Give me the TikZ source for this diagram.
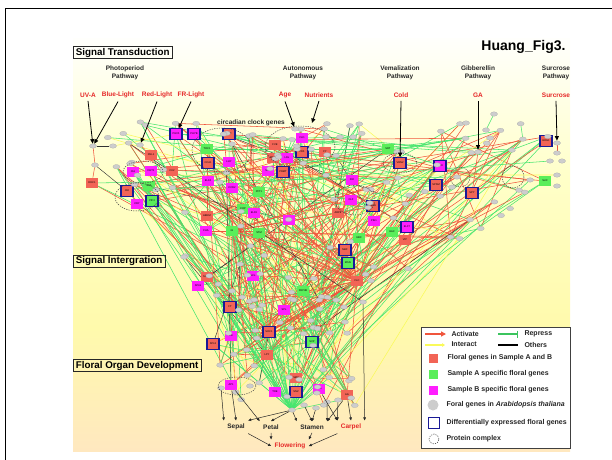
\documentclass[tikz,border=0pt]{standalone}
\usepackage{fontspec}
\setmainfont{Liberation Sans}
\usetikzlibrary{shapes.geometric,arrows.meta}
\definecolor{nred}{RGB}{242,100,86}
\definecolor{ngreen}{RGB}{90,238,90}
\definecolor{nmag}{RGB}{255,30,255}
\definecolor{nblue}{RGB}{25,25,150}
\definecolor{ered}{RGB}{240,85,60}
\definecolor{egreen}{RGB}{70,230,110}
\definecolor{eyellow}{RGB}{250,250,90}
\definecolor{tred}{RGB}{230,40,40}
\definecolor{ngray}{RGB}{205,205,205}
\definecolor{bgpink}{RGB}{255,208,216}
\definecolor{bgpeach}{RGB}{255,226,198}
\definecolor{bgyellow}{RGB}{255,250,172}
\definecolor{bglight}{RGB}{255,255,200}
\pgfdeclareverticalshading{bgshade}{100bp}{color(0bp)=(bgpink); color(20bp)=(bgpeach); color(40bp)=(bgyellow); color(58bp)=(bglight); color(76bp)=(white); color(100bp)=(white)}
\pgfdeclarelayer{back}
\pgfdeclarelayer{edges}
\pgfsetlayers{back,edges,main}
\tikzset{
 x=1pt,y=-1pt,
 gbox/.style={rectangle, minimum width=12pt, minimum height=10.5pt, inner sep=0pt, font=\fontsize{2.6}{3}\selectfont},
 rn/.style={gbox, fill=nred},
 grn/.style={gbox, fill=ngreen},
 mn/.style={gbox, fill=nmag},
 rb/.style={rn, draw=nblue, line width=1.1pt},
 gb/.style={grn, draw=nblue, line width=1.1pt},
 mb/.style={mn, draw=nblue, line width=1.1pt},
 gyn/.style={ellipse, fill=ngray, draw=gray!70, line width=0.2pt, minimum width=7pt, minimum height=4.5pt, inner sep=0pt},
 er/.style={ered, line width=0.55pt},
 eg/.style={egreen, line width=0.55pt},
 ey/.style={eyellow, line width=0.55pt},
 ek/.style={black!80, line width=0.45pt},
 cplx/.style={draw=black!75, dash pattern=on 1.2pt off 1.2pt, line width=0.5pt},
 sect/.style={draw=black!85, line width=0.7pt, font=\bfseries\fontsize{9.8}{11}\selectfont, inner xsep=2.5pt, inner ysep=1.5pt},
 pathlbl/.style={font=\bfseries\fontsize{6.5}{8}\selectfont, align=center, text=black!85},
 sig/.style={font=\bfseries\fontsize{6.5}{8}\selectfont, text=tred},
 sarr/.style={-{Triangle[length=4.5pt,width=4pt]}, line width=0.8pt},
 oarr/.style={-{Triangle[length=3pt,width=2.6pt]}, line width=0.5pt, black!85},
 organ/.style={font=\bfseries\fontsize{6.5}{8}\selectfont, text=black!85},
 leg/.style={font=\bfseries\fontsize{7}{8}\selectfont, anchor=west, text=black!85},
}
\begin{document}
\begin{tikzpicture}
\useasboundingbox (0,0) rectangle (612,459);
\begin{pgfonlayer}{back}
\shade[shading=bgshade] (73,38) rectangle (570,451);
\end{pgfonlayer}
\draw[line width=1.6pt] (5.5,470) -- (5.5,8.5) -- (620,8.5);

% section boxes and titles
\node[sect, anchor=west] (st) at (73,52.5) {Signal Transduction};
\node[sect, anchor=west] (si) at (73,261) {Signal Intergration};
\node[sect, anchor=west] (fo) at (73,365.5) {Floral Organ Development};
\node[font=\bfseries\fontsize{14}{16}\selectfont, anchor=east] (ttl) at (569,47) {Huang\_Fig3.};

\node[pathlbl] (pp) at (125,72.5) {Photoperiod\\Pathway};
\node[pathlbl] (ap) at (303,72.5) {Autonomous\\Pathway};
\node[pathlbl] (vp) at (400,72.5) {Vemalization\\Pathway};
\node[pathlbl] (gp) at (478,72.5) {Gibberellin\\Pathway};
\node[pathlbl] (sp) at (556,72.5) {Surcrose\\Pathway};

\node[sig] (uva) at (88,95) {UV-A};
\node[sig] (blue) at (118,95) {Blue-Light};
\node[sig] (redl) at (157,95) {Red-Light};
\node[sig] (frl) at (191,95) {FR-Light};
\node[sig] (age) at (285,95) {Age};
\node[sig] (nut) at (319,95) {Nutrients};
\node[sig] (cold) at (401,95) {Cold};
\node[sig] (ga) at (478,95) {GA};
\node[sig] (sucr) at (556,95) {Surcrose};
\node[pathlbl] (ccg) at (251,123) {circadian clock genes};

% coloured gene nodes
\foreach \nm/\x/\y/\st/\lb [count=\i] in {
 ddc/92/183/rn/DDC1, phl/151/155/rn/PHL1, cia/133/172/mn/CIA, deb/151/171/mn/DET1,
 ck2/172/171/rn/CK2, spa/149/186/grn/SPA, cri/127/191/rb/CRI, cry/137/204/mn/CRY,
 pif/152/201/gb/PIF3, toc/207/149/grn/TOC1, phya/176/134/mb/PHYA, phyb/194/134/mb/PHYB,
 emf/229/134/rb/EMF, cca/208/163/rb/CCA1, lhy/229/162/mn/LHY, elf/208/181/mn/ELF4,
 ccr/232/188/mn/CCR2, pft/259/192/grn/PFT1, cop/243/209/grn/COP, elfs/254/213/mn/ELF6,
 abrm/207/216/rn/ABRM, fha/206/231/mn/FHA, gi/232/231/grn/GI, stm/259/233/grn/STM,
 ebs/289/220/mn/EBS, fve/275/145/rn/FVE, msi/273/158/rn/MSI4, ldl/287/158/mn/LDL,
 fld/302/138/mn/FLD, fpa/302/152/rb/FPA, fy/325/152/rn/FY, suf/268/171/mn/SUF,
 prmt/283/172/rb/PRMT, arp/338/213/rn/ARP6, fri/352/180/mn/FRI, clf/351/200/mn/CLF,
 sun/373/206/rb/SUN, pie/374/221/mn/PIE1, srt/388/149/grn/SRT, vrn/400/163/rb/VRN2,
 vin/440/166/mb/VIN3, spsm/436/185/rb/SPSM, spy/472/193/rb/SPY, rog/546/141/rb/HOG1,
 suc/545/181/grn/SUC, elfz/407/227/mb/ELF7, hac/392/232/grn/HAC, vip/405/240/rn/VIP,
 ubc/359/238/grn/UBC, maf/345/250/rb/MAF, msib/348/263/gb/MSI5, flc/357/281/rn/FLC,
 splf/207/277/rn/SPL15, spln/198/286/mn/SPL9, scl/253/276/mn/SCL, frp/303/291/grn/FRP3B,
 ft/230/307/rb/FT, spl/284/310/mn/SPL, fd/231/336/mn/FD, soc/269/332/rb/SOC1,
 splt/213/344/rb/SPL3, svp/312/342/gb/SVP, lfy/267/355/rn/LFY, ap1/231/385/mn/AP1,
 smz/296/378/rn/SMZ, toe/275/392/mn/TOE, snz/296/392/rb/SNZ, lug/319/389/mn/LUG,
 ag/347/395/rn/AG}{
  \node[\st, alias=n\i] (\nm) at (\x,\y) {\lb};
}

% random arabidopsis genes (grey)
\pgfmathsetseed{20240}
\foreach \i in {70,...,219}{
  \pgfmathsetmacro\yy{122+285*(rnd^1.6)}
  \pgfmathsetmacro\ll{min(88+0.6*(\yy-125),215)}
  \pgfmathsetmacro\rr{(\yy<190) ? 560 : max(560-1.8*(\yy-190),358)}
  \pgfmathsetmacro\xx{\ll+(\rr-\ll)*rnd}
  \node[gyn] (n\i) at (\xx,\yy) {};
}
% fixed grey nodes
\foreach \nm/\x/\y in {gUV/93/146, gbl/113/146, gRed/140/145, gLa/95/165, gAge/295/129,
 gGA/478/152, gSuc/557/143, hub/292/410, gcarp/363/302, ga1/221/388, ga2/250/386,
 gb3/304/405, gb4/316/408, gb5/327/402, gb6/338/400, gt1/326/137, gt2/340/137, gt3/353/137,
 gs1/557/153, gs2/550/161, gs3/562/161, gs4/557/175, gs5/557/186, gg1/494/114, gg2/466/123,
 gg3/486/130, gg4/490/138}{
  \node[gyn] (\nm) at (\x,\y) {};
}

% complexes
\draw[cplx] (222,150) ellipse [x radius=30, y radius=22];
\draw[cplx] (300,147) ellipse [x radius=35, y radius=21];
\draw[cplx] (143,172) ellipse [x radius=20, y radius=11];
\draw[cplx] (137,197) ellipse [x radius=22, y radius=14];
\draw[cplx] (400,163) ellipse [x radius=17, y radius=10];
\draw[cplx] (460,177) circle [radius=10];
\draw[cplx] (513,177) circle [radius=11];
\draw[cplx] (355,200) ellipse [x radius=20, y radius=15];
\draw[cplx] (237,386) ellipse [x radius=19, y radius=9];

% edges
\begin{pgfonlayer}{edges}
\pgfmathsetseed{777}
\foreach \k in {1,...,320}{
  \pgfmathrandominteger{\a}{1}{219}
  \pgfmathrandominteger{\b}{1}{219}
  \pgfmathrandominteger{\c}{1}{20}
  \ifnum\c<9 \def\ec{eg}\else\ifnum\c<17 \def\ec{er}\else\ifnum\c<20 \def\ec{ey}\else\def\ec{ek}\fi\fi\fi
  \ifnum\a=\b\else\draw[\ec] (n\a) -- (n\b);\fi
}
\foreach \k in {1,...,40}{
  \pgfmathrandominteger{\a}{1}{219}
  \draw[eg] (hub) -- (n\a);
}
\foreach \k in {1,...,30}{
  \pgfmathrandominteger{\a}{1}{219}
  \draw[er] (flc) -- (n\a);
}
\foreach \k in {1,...,18}{
  \pgfmathrandominteger{\a}{1}{219}
  \pgfmathrandominteger{\c}{0}{1}
  \ifnum\c=0 \draw[er] (gi) -- (n\a);\else\draw[eg] (gi) -- (n\a);\fi
}
\foreach \k in {1,...,14}{
  \pgfmathrandominteger{\a}{1}{219}
  \draw[eg] (lfy) -- (n\a);
  \pgfmathrandominteger{\b}{1}{219}
  \draw[er] (soc) -- (n\b);
}
\draw[ek] (gUV) -- (gbl);
\draw[er] (gUV) -- (gLa);
\draw[er] (gLa) -- (ddc);
\draw[ek] (gLa) -- (cri);
\draw[er] (gRed) -- (phl);
\draw[ey] (gbl) -- (phya);
\draw[eg] (gt1) -- (gGA);
\draw[eg] (fld) -- (gt3);
\draw[er] (gSuc) -- (gs1);
\draw[er] (rog) -- (n120);
\draw[eg] (suc) -- (n95);
\draw[er] (gGA) -- (spy);
\draw[eg] (gg1) -- (gg3);
\draw[er] (gg2) -- (n150);
\draw[eg] (gs2) -- (n130);
\draw[ey] (gs4) -- (n101);
\draw[ek] (gcarp) -- (n180);
\draw[eg] (ag) -- (n160);
\draw[er] (ag) -- (flc);
\draw[eg] (lug) -- (hub);
\draw[er] (ap1) -- (lfy);
\draw[eg] (ap1) -- (ft);
\draw[ek] (ap1) -- (n200);
\end{pgfonlayer}

% signal arrows
\draw[sarr] (uva.south) -- (gUV);
\draw[sarr] (blue.south) -- (gUV);
\draw[sarr] (redl.south) -- (gRed);
\draw[sarr] (frl.south) -- (phya);
\draw[sarr] (age.south) -- (gAge);
\coordinate (nutend) at (312,123);
\draw[sarr] (nut.south) -- (nutend);
\draw[sarr] (cold.south) -- (vrn);
\draw[sarr] (ga.south) -- (gGA);
\draw[sarr] (sucr.south) -- (gSuc);

% organs
\node[organ] (sepal) at (236,427) {Sepal};
\node[organ] (petal) at (271,427) {Petal};
\node[organ] (stamen) at (312,427) {Stamen};
\node[organ, text=tred] (carpel) at (351,427) {Carpel};
\node[organ, text=tred] (flow) at (290,446) {Flowering};
\draw[oarr] (ap1) -- (sepal.north);
\draw[oarr] (ap1) -- (petal.north west);
\draw[oarr] (ga1) -- (sepal.north west);
\draw[oarr] (hub) -- (sepal.north east);
\draw[oarr] (hub) -- (petal.north);
\draw[oarr] (hub) -- (stamen.north west);
\draw[oarr] (gb3) -- (stamen.north);
\draw[oarr] (gb4) -- (stamen.north);
\draw[oarr] (gb5) -- (stamen.north east);
\draw[oarr] (ag) -- (stamen.north east);
\draw[oarr] (ag) -- (carpel.north);
\draw[oarr] (gb6) -- (carpel.north west);
\draw[oarr] (lug) -- (carpel.north west);
\draw[oarr] (gcarp) -- (carpel.north east);
\draw[oarr] (sepal.south east) -- (flow.west);
\draw[oarr] (petal.south) -- (flow.north west);
\draw[oarr] (stamen.south) -- (flow.north east);
\draw[oarr] (carpel.south west) -- (flow.east);

% legend
\node[draw=black!75, fill=white, line width=0.8pt, minimum width=149pt, minimum height=121pt, anchor=north west, inner sep=0pt] (lg) at (421,327) {};
\coordinate (la1) at (425,334); \coordinate (la2) at (446,334);
\draw[ered, line width=1.8pt, -{Triangle[length=5pt,width=5pt]}] (la1) -- (la2);
\node[leg] (lact) at (448,333.5) {Activate};
\coordinate (lr1) at (498,334); \coordinate (lr2) at (518,334);
\draw[egreen!85!black, line width=2pt, -{Bar[width=7pt,line width=1.4pt]}] (lr1) -- (lr2);
\node[leg] (lrep) at (521,333.5) {Repress};
\coordinate (li1) at (425,345); \coordinate (li2) at (445,345);
\draw[eyellow, line width=1.6pt, -{Triangle[length=3pt,width=3.5pt]}] (li1) -- (li2);
\node[leg] (lint) at (448,344.5) {Interact};
\coordinate (lo1) at (498,345); \coordinate (lo2) at (518,345);
\draw[black, line width=1.6pt] (lo1) -- (lo2);
\node[leg] (loth) at (521,344.5) {Others};
\node[fill=nred, minimum size=9pt, inner sep=0pt] (ls1) at (433,358) {};
\node[leg] (lt1) at (444,358) {Floral genes in Sample A and B};
\node[fill=ngreen, minimum size=9pt, inner sep=0pt] (ls2) at (433,374) {};
\node[leg] (lt2) at (444,374) {Sample A specific floral genes};
\node[fill=nmag, minimum size=9pt, inner sep=0pt] (ls3) at (433,390) {};
\node[leg] (lt3) at (444,390) {Sample B specific floral genes};
\node[circle, fill=ngray, minimum size=11pt, inner sep=0pt] (ls4) at (433,405) {};
\node[leg] (lt4) at (443,405) {Foral genes in \textit{Arabidopsis thaliana}};
\node[draw=nblue, line width=1.6pt, fill=white, minimum size=11pt, inner sep=0pt] (ls5) at (434,423) {};
\node[leg] (lt5) at (443,423) {Differentially expressed floral genes};
\node[circle, cplx, minimum size=10pt, inner sep=0pt] (ls6) at (434,439) {};
\node[leg] (lt6) at (443,439) {Protein complex};
\end{tikzpicture}
\end{document}
